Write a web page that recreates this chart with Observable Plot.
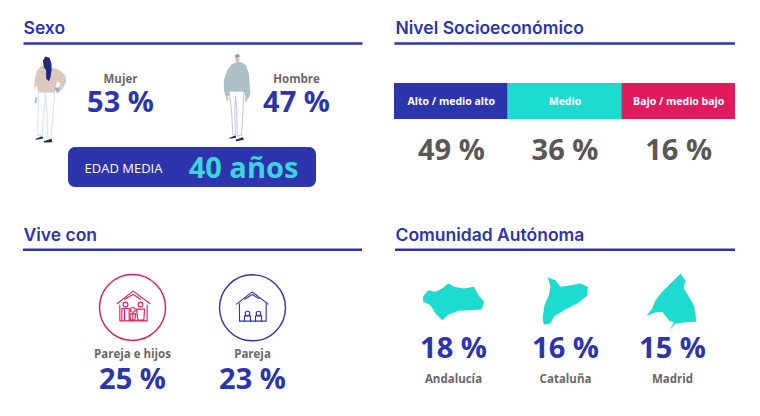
<!DOCTYPE html>
<html lang="es">
<head>
<meta charset="utf-8">
<script src="https://cdn.jsdelivr.net/npm/d3@7"></script>
<script src="https://cdn.jsdelivr.net/npm/@observablehq/plot@0.6"></script>
<style>html,body{margin:0;padding:0;background:#fff}svg{display:block}</style>
</head>
<body>
<div id="chart"></div>
<script>
// ---- values ----
const panelTitles = ["Sexo", "Nivel Socioeconómico", "Vive con", "Comunidad Autónoma"];
const sexLabels = ["Mujer", "Hombre"];
const sexValues = [53, 47];
const ageLabel = "EDAD MEDIA";
const ageValue = "40 años";
const nseLabels = ["Alto / medio alto", "Medio", "Bajo / medio bajo"];
const nseValues = [49, 36, 16];
const liveLabels = ["Pareja e hijos", "Pareja"];
const liveValues = [25, 23];
const regionLabels = ["Andalucía", "Cataluña", "Madrid"];
const regionValues = [18, 16, 15];

// ---- styles and layout ----
const BLUE = "#2c35ab", TEAL = "#1edbd0", PINK = "#df1a5d", GREY = "#5a5856", LABEL = "#6b6866";
const HEAD = "Inter", BODY = "Open Sans";
const pct = v => `${v} %`;
const tx = (d, o) => Plot.text(d, {x: "x", y: "y", text: "t", lineAnchor: "middle", fontFamily: BODY, fontWeight: 700, ...o});

// outlines: local units are thirds of a pixel
const shape = (pts, ox, oy, o) => Plot.line(pts, {
  x: d => ox + d[0] / 3, y: d => oy + d[1] / 3, curve: "linear-closed", ...o
});
const stroke = (pts, ox, oy, color, w = 1.1) => Plot.line(pts, {
  x: d => ox + d[0] / 3, y: d => oy + d[1] / 3, stroke: color, strokeWidth: w, curve: "linear"
});

const andalucia = [[127,265],[143,245],[165,250],[185,240],[203,224],[222,235],[250,240],[280,235],[295,262],[311,280],[303,303],[270,305],[235,307],[205,318],[185,335],[165,315],[150,290],[128,280]];
const cataluna = [[502,207],[525,215],[540,235],[570,230],[600,225],[622,235],[620,262],[590,285],[550,305],[520,325],[510,345],[490,348],[486,330],[492,290],[505,260],[510,235]];
const madrid = [[900,196],[914,215],[910,240],[925,265],[940,290],[945,318],[947,340],[910,342],[885,345],[868,362],[880,342],[865,335],[845,310],[825,312],[798,321],[815,300],[825,275],[845,250],[860,235],[885,210]];

const womanTop = [[48,45],[75,50],[100,58],[120,75],[122,95],[110,118],[95,120],[105,100],[95,92],[88,125],[40,125],[32,105],[25,120],[28,85],[35,60]];
const womanHair = [[52,30],[60,18],[72,22],[78,40],[78,60],[75,80],[70,92],[62,85],[62,60],[55,50]];
const womanHand = [[85,112],[100,110],[105,120],[95,128]];
const womanHand2 = [[30,140],[36,140],[32,160],[27,155]];
const womanLegL = [[40,125],[60,125],[50,255],[37,255],[38,180]];
const womanLegR = [[60,125],[88,125],[80,220],[76,265],[65,265],[65,190]];
const womanShoeL = [[30,265],[50,257],[54,264],[30,268]];
const womanShoeR = [[55,272],[78,265],[80,275],[55,276]];

const manTop = [[48,42],[62,35],[78,35],[92,45],[100,70],[105,130],[98,145],[88,135],[85,122],[42,122],[40,135],[33,140],[25,120],[25,90],[35,60]];
const manHead = [[60,22],[70,20],[72,32],[66,37],[60,32]];
const manHair = [[57,15],[68,10],[74,18],[62,23]];
const manHandL = [[32,140],[40,140],[38,152],[33,150]];
const manHandR = [[88,138],[97,142],[94,155],[88,150]];
const manPants = [[42,122],[85,122],[82,190],[78,255],[65,255],[64,180],[60,135],[58,190],[60,255],[52,252],[48,180]];
const manShoeL = [[42,262],[60,255],[62,262],[42,265]];
const manShoeR = [[60,268],[82,260],[85,268],[62,272]];

const famHouse = [[[350,285],[398,248],[448,285]], [[358,290],[358,337],[440,337],[440,290]], [[372,272],[398,258],[420,272]]];
const famPeople = [
  [[364,335],[364,300],[386,300],[386,335]], [[372,300],[372,335]],
  [[390,335],[388,316],[406,316],[403,335],[391,335]], [[397,316],[397,335]],
  [[412,335],[408,302],[432,302],[430,335],[412,335]]
];
const famHeads = [[375,288],[397,304],[420,288]];
const coupleHouse = [[[708,287],[755,250],[803,287]], [[717,285],[717,338],[797,338],[797,285]], [[733,272],[755,258],[775,270]]];
const couplePeople = [[[732,338],[732,322],[750,322],[750,338]], [[765,338],[765,322],[783,322],[783,338]]];
const coupleHeads = [[741,315],[774,315]];

// positions of text and bars on the 760x416 page
const titleAt = [[23, 28], [395, 28], [23, 235], [395, 235]];
const ruleAt = [[23.5, 362.5, 43], [394.5, 735, 43], [23, 362, 249.3], [395, 735, 249.3]];
const sexX = [120, 296];
const nseX0 = 394, nseW = 113.67;
const liveX = [132, 252];
const regionX = [453, 565, 672];

const marks = [
  // panel headings + underline
  tx(panelTitles.map((t, i) => ({t, x: titleAt[i][0], y: titleAt[i][1]})),
     {textAnchor: "start", fontFamily: HEAD, fontWeight: 600, fontSize: 17.5, fill: BLUE}),
  Plot.ruleY(ruleAt, {x1: d => d[0], x2: d => d[1], y: d => d[2], stroke: BLUE, strokeWidth: 2.6}),

  // figures
  shape(womanLegL, 25, 50, {fill: "#fff", stroke: "#bfe0e6", strokeWidth: 0.8}),
  shape(womanLegR, 25, 50, {fill: "#fff", stroke: "#bfe0e6", strokeWidth: 0.8}),
  shape(womanTop, 25, 50, {fill: "#dcc8bf"}),
  shape(womanHair, 25, 50, {fill: "#232a7c"}),
  shape(womanHand, 25, 50, {fill: "#a9add6"}),
  shape(womanHand2, 25, 50, {fill: "#a9b6cc"}),
  shape(womanShoeL, 25, 50, {fill: "#1f2560"}),
  shape(womanShoeR, 25, 50, {fill: "#1f2560"}),
  shape(manPants, 215, 50, {fill: "#fff", stroke: "#b9bfdc", strokeWidth: 0.9}),
  shape(manTop, 215, 50, {fill: "#adc0c5"}),
  shape(manHead, 215, 50, {fill: "#ecb4ab"}),
  shape(manHair, 215, 50, {fill: "#8e9cb4"}),
  shape(manHandL, 215, 50, {fill: "#ecb4ab"}),
  shape(manHandR, 215, 50, {fill: "#ecb4ab"}),
  shape(manShoeL, 215, 50, {fill: "#1f2560"}),
  shape(manShoeR, 215, 50, {fill: "#1f2560"}),

  // sex labels + values
  tx(sexLabels.map((t, i) => ({t, x: sexX[i], y: 79})), {fontSize: 11.5, fill: LABEL}),
  tx(sexValues.map((v, i) => ({t: pct(v), x: sexX[i], y: 102})), {fontSize: 29, fill: BLUE}),

  // age box
  Plot.rect([0], {x1: () => 68, x2: () => 316, y1: () => 147, y2: () => 187, fill: BLUE, rx: 7}),
  tx([{t: ageLabel, x: 123, y: 168}], {fontSize: 13, fontWeight: 400, fill: "#fff"}),
  tx([{t: ageValue, x: 243, y: 168}], {fontSize: 29, fill: "#3fd2e0"}),

  // socioeconomic band
  Plot.rect(nseLabels, {x1: (d, i) => nseX0 + i * nseW, x2: (d, i) => nseX0 + (i + 1) * nseW,
    y1: () => 83, y2: () => 119, fill: (d, i) => [BLUE, TEAL, PINK][i]}),
  tx(nseLabels.map((t, i) => ({t, x: nseX0 + (i + 0.5) * nseW, y: 101})), {fontSize: 10.5, fill: "#fff"}),
  tx(nseValues.map((v, i) => ({t: pct(v), x: nseX0 + (i + 0.5) * nseW, y: 150})), {fontSize: 29, fill: GREY}),

  // household circles + icons
  Plot.dot([[132, 307, PINK], [252, 307.3, BLUE]], {x: d => d[0], y: d => d[1], r: 33, stroke: d => d[2], strokeWidth: 1.4, fill: "none"}),
  ...famHouse.map(p => stroke(p, 0, 208, PINK)),
  ...famPeople.map(p => stroke(p, 0, 208, PINK)),
  Plot.dot(famHeads, {x: d => d[0] / 3, y: d => 208 + d[1] / 3, r: 2.4, stroke: PINK, strokeWidth: 1.1, fill: "#fff"}),
  ...coupleHouse.map(p => stroke(p, 0, 208, BLUE)),
  ...couplePeople.map(p => stroke(p, 0, 208, BLUE)),
  Plot.dot(coupleHeads, {x: d => d[0] / 3, y: d => 208 + d[1] / 3, r: 2.3, stroke: BLUE, strokeWidth: 1.1, fill: "#fff"}),
  tx(liveLabels.map((t, i) => ({t, x: liveX[i], y: 354})), {fontSize: 11.5, fill: LABEL}),
  tx(liveValues.map((v, i) => ({t: pct(v), x: liveX[i], y: 379.5})), {fontSize: 29, fill: BLUE}),

  // regions
  shape(andalucia, 380, 208, {fill: TEAL}),
  shape(cataluna, 380, 208, {fill: TEAL}),
  shape(madrid, 380, 208, {fill: TEAL}),
  tx(regionValues.map((v, i) => ({t: pct(v), x: regionX[i], y: 348})), {fontSize: 29, fill: BLUE}),
  tx(regionLabels.map((t, i) => ({t, x: regionX[i], y: 379})), {fontSize: 11.5, fill: LABEL})
];

const chart = Plot.plot({
  width: 760, height: 416, margin: 0,
  x: {domain: [0, 760], range: [0, 760], axis: null},
  y: {domain: [0, 416], range: [0, 416], axis: null},
  style: {background: "#fff"},
  marks
});
document.getElementById("chart").append(chart);
</script>
</body>
</html>
